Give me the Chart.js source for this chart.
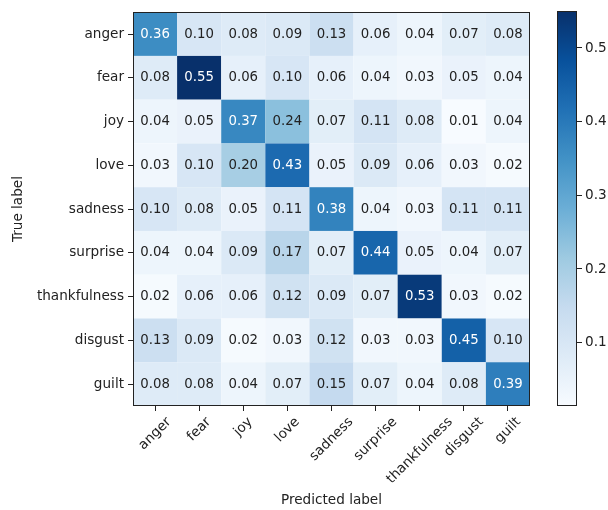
<!DOCTYPE html>
<html>
<head>
<meta charset="utf-8">
<script src="https://cdn.jsdelivr.net/npm/chart.js@4.4.1/dist/chart.umd.min.js"></script>
<style>
  html, body { margin: 0; padding: 0; background: #fff; }
  #wrap { position: relative; width: 608px; height: 510px; }
  #main { position: absolute; left: 0; top: 0; }
  #cbar { position: absolute; left: 545px; top: 0; }
</style>
</head>
<body>
<div id="wrap">
  <canvas id="main" width="608" height="510"></canvas>
  <canvas id="cbar" width="63" height="510"></canvas>
</div>
<script>
// ---- data ----
const trueLabels = ['anger','fear','joy','love','sadness','surprise','thankfulness','disgust','guilt'];
const predLabels = ['anger','fear','joy','love','sadness','surprise','thankfulness','disgust','guilt'];
const rowAnger        = [0.36, 0.10, 0.08, 0.09, 0.13, 0.06, 0.04, 0.07, 0.08];
const rowFear         = [0.08, 0.55, 0.06, 0.10, 0.06, 0.04, 0.03, 0.05, 0.04];
const rowJoy          = [0.04, 0.05, 0.37, 0.24, 0.07, 0.11, 0.08, 0.014, 0.04];
const rowLove         = [0.03, 0.10, 0.20, 0.43, 0.05, 0.09, 0.06, 0.03, 0.02];
const rowSadness      = [0.10, 0.08, 0.05, 0.11, 0.38, 0.04, 0.03, 0.11, 0.11];
const rowSurprise     = [0.04, 0.04, 0.09, 0.17, 0.07, 0.44, 0.05, 0.04, 0.07];
const rowThankfulness = [0.02, 0.06, 0.06, 0.12, 0.09, 0.07, 0.53, 0.03, 0.02];
const rowDisgust      = [0.13, 0.09, 0.02, 0.03, 0.12, 0.03, 0.03, 0.45, 0.10];
const rowGuilt        = [0.08, 0.08, 0.04, 0.07, 0.15, 0.07, 0.04, 0.08, 0.39];
const colorbarTicks   = [0.1, 0.2, 0.3, 0.4, 0.5];

const matrix = [rowAnger, rowFear, rowJoy, rowLove, rowSadness, rowSurprise, rowThankfulness, rowDisgust, rowGuilt];
const allVals = matrix.flat();
const vmin = Math.min(...allVals);
const vmax = Math.max(...allVals);

// matplotlib "Blues"
const BLUES = ['#f7fbff','#deebf7','#c6dbef','#9ecae1','#6baed6','#4292c6','#2171b5','#08519c','#08306b'];
function hexToRgb(h){ return [parseInt(h.slice(1,3),16), parseInt(h.slice(3,5),16), parseInt(h.slice(5,7),16)]; }
const BLUES_RGB = BLUES.map(hexToRgb);
function blues(t){
  t = Math.max(0, Math.min(1, t));
  const s = t * (BLUES_RGB.length - 1);
  const i = Math.min(Math.floor(s), BLUES_RGB.length - 2);
  const f = s - i;
  const a = BLUES_RGB[i], b = BLUES_RGB[i+1];
  return 'rgb(' + [0,1,2].map(k => Math.round(a[k] + (b[k]-a[k])*f)).join(',') + ')';
}
function colorFor(v){ return blues((v - vmin) / (vmax - vmin)); }

const FONT = 'DejaVu Sans';
const FS = 13.3;
const FS_TICK = 13.6;
const TXT = '#222';
Chart.defaults.font.family = FONT;
Chart.defaults.font.size = FS_TICK;
Chart.defaults.color = TXT;

const points = [];
matrix.forEach((row, r) => row.forEach((v, c) => points.push({x: c, y: r, v: v})));

const heatPlugin = {
  id: 'heat',
  beforeDatasetsDraw(chart) {
    const {ctx, scales: {x, y}} = chart;
    const thresh = vmax / 2;
    ctx.save();
    points.forEach(p => {
      const x0 = x.getPixelForValue(p.x - 0.5), x1 = x.getPixelForValue(p.x + 0.5);
      const y0 = y.getPixelForValue(p.y - 0.5), y1 = y.getPixelForValue(p.y + 0.5);
      ctx.fillStyle = colorFor(p.v);
      ctx.fillRect(Math.min(x0,x1), Math.min(y0,y1), Math.abs(x1-x0), Math.abs(y1-y0));
    });
    ctx.font = FS + 'px "' + FONT + '"';
    ctx.textAlign = 'center';
    ctx.textBaseline = 'middle';
    points.forEach(p => {
      ctx.fillStyle = p.v > thresh ? '#ffffff' : TXT;
      ctx.fillText(p.v.toFixed(2), x.getPixelForValue(p.x), y.getPixelForValue(p.y));
    });
    ctx.restore();
  },
  afterDraw(chart) {
    const {ctx, chartArea: a, scales: {x}} = chart;
    ctx.save();
    ctx.strokeStyle = TXT;
    ctx.lineWidth = 1;
    ctx.strokeRect(Math.round(a.left) + 0.5, Math.round(a.top) + 0.5, Math.round(a.right - a.left) - 1, Math.round(a.bottom - a.top) - 1);
    // x tick labels: rotated 45deg, bounding box centred under each tick (matplotlib style)
    ctx.font = FS_TICK + 'px "' + FONT + '"';
    ctx.fillStyle = TXT;
    ctx.textAlign = 'right';
    ctx.textBaseline = 'middle';
    const c45 = Math.SQRT1_2;
    const H = FS_TICK;
    x.ticks.forEach((t, i) => {
      const label = predLabels[t.value];
      const L = ctx.measureText(label).width;
      const px = x.getPixelForTick(i) + c45 * L / 2;
      const py = a.bottom + 5 + 4 + c45 * H / 2;
      ctx.save();
      ctx.translate(px, py);
      ctx.rotate(-Math.PI / 4);
      ctx.fillText(label, 0, 0);
      ctx.restore();
    });
    ctx.restore();
  }
};

new Chart(document.getElementById('main'), {
  type: 'scatter',
  data: { datasets: [{ data: points, pointRadius: 0, pointHoverRadius: 0 }] },
  options: {
    responsive: false,
    animation: false,
    events: [],
    layout: { padding: { top: 7, right: 78, left: 0, bottom: 0 } },
    plugins: { legend: { display: false }, tooltip: { enabled: false } },
    scales: {
      x: {
        type: 'linear', min: -0.5, max: 8.5,
        afterBuildTicks(s) { s.ticks = predLabels.map((_, i) => ({ value: i })); },
        afterFit(s) { s.height = 104; s.paddingLeft = 0; s.paddingRight = 0; },
        ticks: { autoSkip: false, maxRotation: 0, minRotation: 0, color: 'rgba(0,0,0,0)', callback: () => '' },
        grid: { drawOnChartArea: false, drawTicks: true, tickLength: 5, color: TXT },
        border: { display: false },
        title: { display: true, text: 'Predicted label', padding: { top: 0, bottom: 1 } }
      },
      y: {
        type: 'linear', min: -0.5, max: 8.5, reverse: true,
        afterBuildTicks(s) { s.ticks = trueLabels.map((_, i) => ({ value: i })); },
        afterFit(s) { s.width = 133; },
        ticks: { autoSkip: false, padding: 4, callback: (v) => trueLabels[v] },
        grid: { drawOnChartArea: false, drawTicks: true, tickLength: 5, color: TXT },
        border: { display: false },
        title: { display: true, text: 'True label', padding: { top: 10, bottom: 0 } }
      }
    }
  },
  plugins: [heatPlugin]
});

const cbarPlugin = {
  id: 'cbarFill',
  beforeDatasetsDraw(chart) {
    const {ctx, chartArea: a} = chart;
    const g = ctx.createLinearGradient(0, a.bottom, 0, a.top);
    BLUES.forEach((c, i) => g.addColorStop(i / (BLUES.length - 1), c));
    ctx.save();
    ctx.fillStyle = g;
    ctx.fillRect(a.left, a.top, a.right - a.left, a.bottom - a.top);
    ctx.strokeStyle = TXT;
    ctx.lineWidth = 1;
    ctx.strokeRect(Math.round(a.left) + 0.5, Math.round(a.top) + 0.5, Math.round(a.right - a.left) - 1, Math.round(a.bottom - a.top) - 1);
    ctx.restore();
  }
};

new Chart(document.getElementById('cbar'), {
  type: 'scatter',
  data: { datasets: [{ data: [], pointRadius: 0 }] },
  options: {
    responsive: false,
    animation: false,
    events: [],
    layout: { padding: { top: 7, left: 12, right: 0, bottom: 104 } },
    plugins: { legend: { display: false }, tooltip: { enabled: false } },
    scales: {
      x: { display: false, min: 0, max: 1 },
      y: {
        type: 'linear', position: 'right', min: vmin, max: vmax,
        afterBuildTicks(s) { s.ticks = colorbarTicks.map(v => ({ value: v })); },
        afterFit(s) { s.width = 31; },
        ticks: { padding: 3, callback: (v) => v.toFixed(1) },
        grid: { drawOnChartArea: false, drawTicks: true, tickLength: 5, color: TXT },
        border: { display: false }
      }
    }
  },
  plugins: [cbarPlugin]
});
</script>
</body>
</html>
